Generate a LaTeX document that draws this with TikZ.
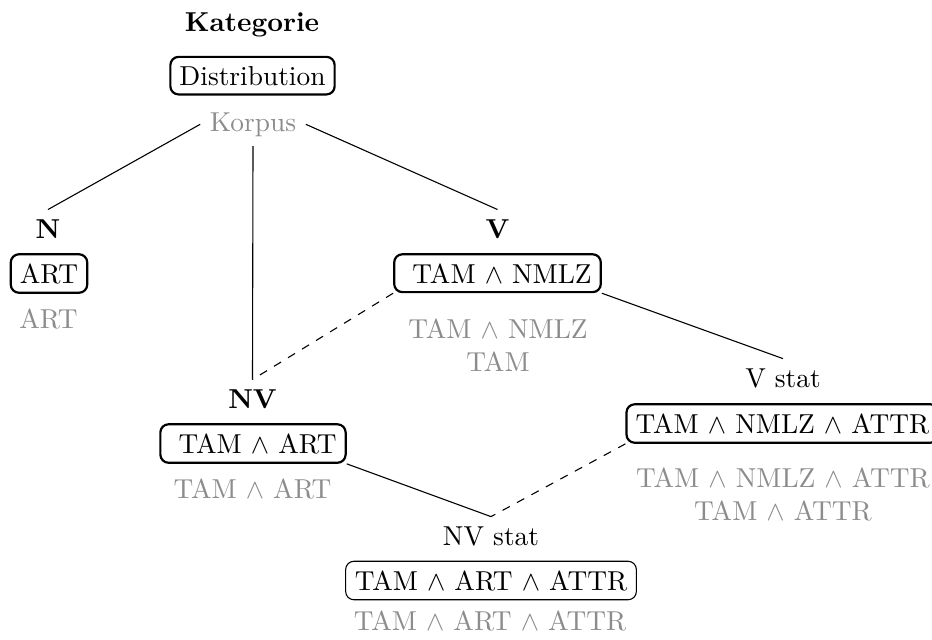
\documentclass[tikz,border=0pt]{standalone}
\begin{document}
\begin{tikzpicture}[x=0.365pt,y=-0.365pt,
  cat/.style={font=\bfseries, anchor=base},
  plain/.style={anchor=base},
  featbox/.style={anchor=base, draw, rounded corners=3pt, line width=0.8pt},
  thinbox/.style={anchor=base, draw, rounded corners=3pt, line width=0.4pt},
  corpus/.style={anchor=base, text=black!45, align=center},
  link/.style={line width=0.4pt},
  weak/.style={line width=0.4pt, dashed}]
\useasboundingbox (0,0) rectangle (932,639);

% root
\node[cat] (kat) at (252,31) {Kategorie};
\node[featbox] (distbox) at (252.5,85) {Distribution};
\node[corpus] (korpus) at (253,131) {Korpus};

% N
\node[cat] (n) at (48,238) {N};
\node[featbox] (nbox) at (49,283) {ART};
\node[corpus] (ncorp) at (48.5,328) {ART};

% V
\node[cat] (v) at (497.5,238) {V};
\node[featbox] (vbox) at (497.5,283) {\ TAM $\wedge$ NMLZ};
\node[corpus, anchor=north] (vcorp) at (498,309) {TAM $\wedge$ NMLZ\\TAM};

% NV
\node[cat] (nv) at (252.5,408) {NV};
\node[featbox] (nvbox) at (253,453) {\ TAM $\wedge$ ART};
\node[corpus] (nvcorp) at (252.5,498) {TAM $\wedge$ ART};

% V stat
\node[plain] (vstat) at (783,387) {V stat};
\node[featbox] (vstatbox) at (782.5,433) {TAM $\wedge$ NMLZ $\wedge$ ATTR};
\node[corpus, anchor=north] (vstatcorp) at (783,458) {TAM $\wedge$ NMLZ $\wedge$ ATTR\\TAM $\wedge$ ATTR};

% NV stat
\node[plain] (nvstat) at (491,545) {NV stat};
\node[thinbox] (nvstatbox) at (491,590) {TAM $\wedge$ ART $\wedge$ ATTR};
\node[corpus] (nvstatcorp) at (490,630) {TAM $\wedge$ ART $\wedge$ ATTR};

% connectors
\draw[link] (korpus.west) -- (n.north);
\draw[link] (korpus.east) -- (v.north);
\draw[link] (korpus.south) -- (nv.north);
\draw[weak] (vbox.south west) -- (nv.north);
\draw[link] (vbox.south east) -- (vstat.north);
\draw[link] (nvbox.south east) -- (nvstat.north);
\draw[weak] (vstatbox.south west) -- (nvstat.north);
\end{tikzpicture}
\end{document}
